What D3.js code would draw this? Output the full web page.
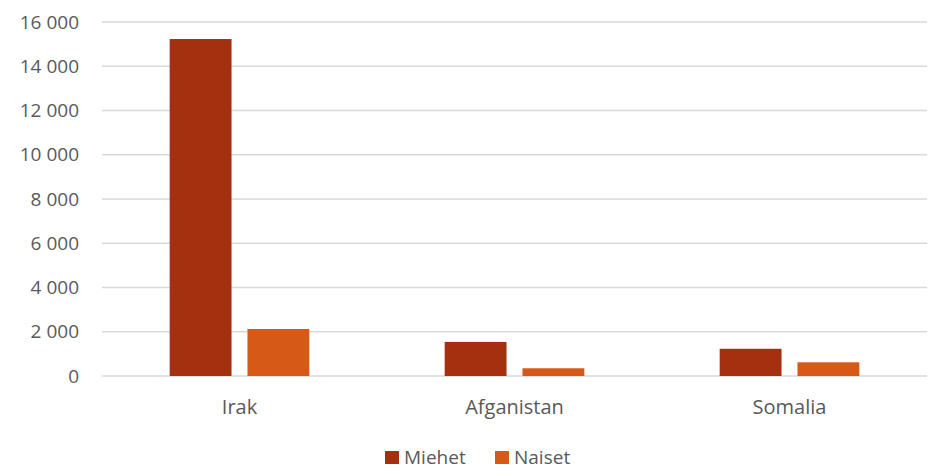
<!DOCTYPE html>
<html>
<head>
<meta charset="utf-8">
<script src="https://cdn.jsdelivr.net/npm/d3@7"></script>
<style>
  body { margin: 0; background: #fff; overflow: hidden; }
  svg { display: block; }
  text { font-family: "Open Sans", sans-serif; fill: #595959; }
</style>
</head>
<body>
<div id="chart"></div>
<script>
const countries = ['Irak', 'Afganistan', 'Somalia'];
const seriesNames = ['Miehet', 'Naiset'];
const miehet = [15230, 1540, 1230];
const naiset = [2125, 350, 620];
const yTicks = [0, 2000, 4000, 6000, 8000, 10000, 12000, 14000, 16000];
const colors = ['#a5300f', '#d55a17'];

const width = 934;
const height = 470;
const margin = { top: 22, right: 7, bottom: 94, left: 102 };

const svg = d3.select('#chart')
  .append('svg')
  .attr('width', width)
  .attr('height', height);

const x = d3.scaleBand()
  .domain(countries)
  .range([margin.left, width - margin.right]);

const x1 = d3.scaleBand()
  .domain(seriesNames)
  .range([0, x.bandwidth()])
  .paddingInner(0.205)
  .paddingOuter(0.87);

const y = d3.scaleLinear()
  .domain([0, 16000])
  .range([height - margin.bottom, margin.top]);

const fmt = d => d3.format(',')(d).replace(/,/g, ' ');

// gridlines
svg.append('g')
  .selectAll('line')
  .data(yTicks)
  .join('line')
    .attr('x1', margin.left)
    .attr('x2', width - margin.right)
    .attr('y1', d => y(d))
    .attr('y2', d => y(d))
    .attr('stroke', '#d9d9d9')
    .attr('stroke-width', 1.3);

svg.append('g')
  .selectAll('text')
  .data(yTicks)
  .join('text')
    .attr('x', 79)
    .attr('y', d => y(d))
    .attr('dy', '0.35em')
    .attr('text-anchor', 'end')
    .attr('font-size', 19)
    .text(fmt);

const rows = countries.map((c, i) => ({ country: c, values: [miehet[i], naiset[i]] }));

svg.append('g')
  .selectAll('g')
  .data(rows)
  .join('g')
    .attr('transform', d => `translate(${x(d.country)},0)`)
  .selectAll('rect')
  .data(d => d.values.map((v, j) => ({ key: seriesNames[j], value: v, j })))
  .join('rect')
    .attr('x', d => x1(d.key))
    .attr('y', d => y(d.value))
    .attr('width', x1.bandwidth())
    .attr('height', d => y(0) - y(d.value))
    .attr('fill', d => colors[d.j]);

svg.append('g')
  .selectAll('text')
  .data(countries)
  .join('text')
    .attr('x', d => x(d) + x.bandwidth() / 2)
    .attr('y', 407)
    .attr('dy', '0.35em')
    .attr('text-anchor', 'middle')
    .attr('font-size', 20)
    .text(d => d);

// legend
const legend = svg.append('g').attr('transform', 'translate(385,457)');
const items = legend.selectAll('g')
  .data(seriesNames)
  .join('g')
    .attr('transform', (d, i) => `translate(${i * 110},0)`);
items.append('rect')
  .attr('x', 0)
  .attr('y', -6)
  .attr('width', 14)
  .attr('height', 13)
  .attr('fill', (d, i) => colors[i]);
items.append('text')
  .attr('x', 19)
  .attr('dy', '0.35em')
  .attr('font-size', 19)
  .text(d => d);
</script>
</body>
</html>
